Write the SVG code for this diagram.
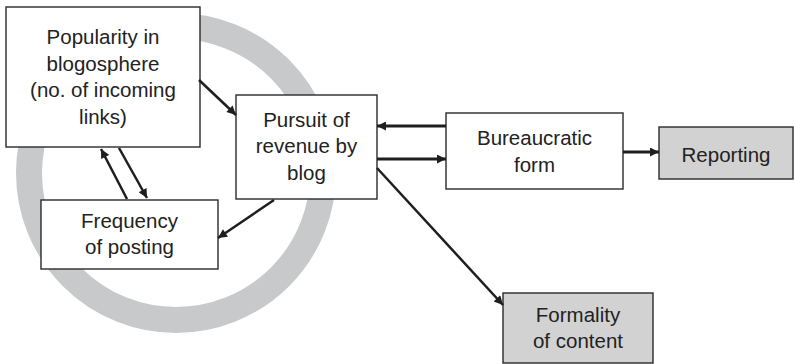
<svg xmlns="http://www.w3.org/2000/svg" width="794" height="364" viewBox="0 0 794 364">
<style>
.box{fill:#fff;stroke:#2a2a2a;stroke-width:1.4}
.grey{fill:#d2d2d2;stroke:#2a2a2a;stroke-width:1.4}
.t{font-family:"Liberation Sans",Arial,sans-serif;font-size:20.5px;fill:#222;text-anchor:middle}
.c{stroke:#1e1e1e;stroke-width:2.5;fill:none;marker-end:url(#ah)}
.h{stroke-width:3}
</style>
<defs>
<marker id="ah" viewBox="0 0 10 10" refX="10" refY="5" markerWidth="11" markerHeight="9" orient="auto" markerUnits="userSpaceOnUse">
<path d="M0,0 L10,5 L0,10 z" fill="#1e1e1e"/>
</marker>
</defs>
<rect width="794" height="364" fill="#fff"/>
<circle cx="176" cy="173" r="147" fill="none" stroke="#c8c9cb" stroke-width="26"/>
<g id="popularity">
<rect class="box" x="6" y="7" width="194" height="140"/>
<text class="t" x="103" y="44">Popularity in</text>
<text class="t" x="103" y="71">blogosphere</text>
<text class="t" x="103" y="97">(no. of incoming</text>
<text class="t" x="103" y="124">links)</text>
</g>
<g id="pursuit">
<rect class="box" x="236" y="95" width="141" height="104"/>
<text class="t" x="306.5" y="127">Pursuit of</text>
<text class="t" x="306.5" y="153">revenue by</text>
<text class="t" x="306.5" y="180">blog</text>
</g>
<g id="frequency">
<rect class="box" x="41" y="200" width="177" height="69"/>
<text class="t" x="129.5" y="228">Frequency</text>
<text class="t" x="129.5" y="254">of posting</text>
</g>
<g id="bureaucratic">
<rect class="box" x="446" y="113" width="177" height="76"/>
<text class="t" x="534.5" y="145">Bureaucratic</text>
<text class="t" x="534.5" y="172">form</text>
</g>
<g id="reporting">
<rect class="grey" x="659" y="127" width="134" height="52"/>
<text class="t" x="726" y="162">Reporting</text>
</g>
<g id="formality">
<rect class="grey" x="503" y="293" width="150" height="70"/>
<text class="t" x="578" y="322">Formality</text>
<text class="t" x="578" y="348">of content</text>
</g>
<g id="connectors">
<line class="c" x1="199" y1="80" x2="236" y2="115"/>
<line class="c" x1="127" y1="199" x2="101" y2="149"/>
<line class="c" x1="119" y1="148" x2="147" y2="198"/>
<line class="c" x1="274" y1="200" x2="218" y2="238"/>
<line class="c h" x1="446" y1="126" x2="377" y2="126"/>
<line class="c h" x1="377" y1="159" x2="446" y2="159"/>
<line class="c h" x1="623" y1="152" x2="659" y2="152"/>
<line class="c" x1="377" y1="168" x2="503" y2="305"/>
</g>
</svg>
